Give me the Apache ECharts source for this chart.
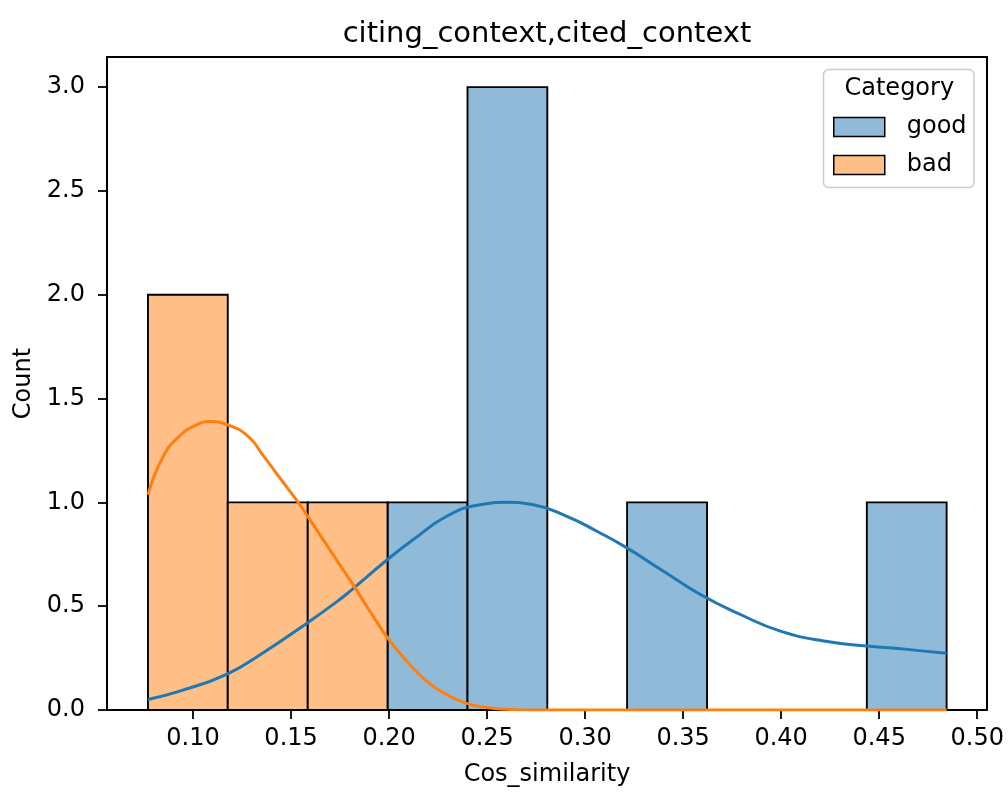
<!DOCTYPE html>
<html>
<head>
<meta charset="utf-8">
<script src="https://cdn.jsdelivr.net/npm/echarts@6/dist/echarts.min.js"></script>
<style>html,body{margin:0;padding:0;background:#fff;}#chart{width:1008px;height:792px;}</style>
</head>
<body>
<div id="chart"></div>
<script>
// ---- data ----
const binEdges = [0.0770, 0.1177, 0.1585, 0.1992, 0.2400, 0.2807, 0.3214, 0.3622, 0.4029, 0.4437, 0.4844];
const goodCounts = [0, 0, 0, 1, 3, 0, 1, 0, 0, 1];
const badCounts  = [2, 1, 1, 0, 0, 0, 0, 0, 0, 0];

const goodKdeX = [0.0770, 0.0932, 0.1171, 0.1358, 0.1579, 0.1748, 0.1809, 0.1992, 0.2124, 0.2294, 0.2464, 0.2601, 0.2736, 0.2907, 0.3060, 0.3213, 0.3400, 0.3588, 0.3792, 0.3996, 0.4218, 0.4439, 0.4643, 0.4844];
const goodKdeY = [0.051, 0.091, 0.172, 0.276, 0.417, 0.532, 0.579, 0.725, 0.821, 0.933, 0.989, 1.000, 0.989, 0.933, 0.861, 0.781, 0.668, 0.556, 0.460, 0.380, 0.332, 0.308, 0.292, 0.273];

const badKdeX = [0.0770, 0.0847, 0.0932, 0.1017, 0.1085, 0.1171, 0.1281, 0.1358, 0.1450, 0.1545, 0.1579, 0.1748, 0.1816, 0.1918, 0.1992, 0.2089, 0.2191, 0.2293, 0.2395, 0.2497, 0.2600, 0.2750, 0.3000, 0.3500, 0.4000, 0.4500, 0.4844];
const badKdeY = [1.037, 1.220, 1.320, 1.373, 1.389, 1.375, 1.318, 1.225, 1.109, 0.989, 0.941, 0.700, 0.604, 0.452, 0.348, 0.236, 0.139, 0.075, 0.032, 0.012, 0.004, 0, 0, 0, 0, 0, 0];

const xTicks = [0.10, 0.15, 0.20, 0.25, 0.30, 0.35, 0.40, 0.45, 0.50];
const yTicks = [0.0, 0.5, 1.0, 1.5, 2.0, 2.5, 3.0];

const titleText = 'citing_context,cited_context';
const xName = 'Cos_similarity';
const yName = 'Count';
const legendTitle = 'Category';
const categories = ['good', 'bad'];

// ---- build ----
const FONT = 'DejaVu Sans';
const colors = {good: {fill: '#8fbbd9', line: '#1f77b4'}, bad: {fill: '#ffbf86', line: '#ff7f0e'}};

function binData(counts) {
  return counts.map((c, i) => [binEdges[i], binEdges[i + 1], c]);
}
function zip(xs, ys) { return xs.map((x, i) => [x, ys[i]]); }

function barSeries(name, counts) {
  return {
    name: name,
    type: 'custom',
    z: 2,
    itemStyle: {color: colors[name].fill},
    encode: {x: [0, 1], y: 2},
    data: binData(counts),
    renderItem: function (params, api) {
      const p0 = api.coord([api.value(0), 0]);
      const p1 = api.coord([api.value(1), api.value(2)]);
      return {
        type: 'rect',
        shape: {x: p0[0], y: p1[1], width: p1[0] - p0[0], height: p0[1] - p1[1]},
        style: {fill: colors[name].fill, stroke: '#000', lineWidth: 1.9}
      };
    }
  };
}
function kdeSeries(name, xs, ys) {
  return {
    name: name + '_kde',
    type: 'line',
    z: 5,
    data: zip(xs, ys),
    showSymbol: false,
    symbol: 'none',
    smooth: 0.5,
    clip: true,
    lineStyle: {color: colors[name].line, width: 3},
    itemStyle: {color: colors[name].line},
    silent: true
  };
}

const chart = echarts.init(document.getElementById('chart'), null, {renderer: 'canvas'});
chart.setOption({
  animation: false,
  backgroundColor: '#fff',
  title: {
    text: titleText, left: 547, top: 20, textAlign: 'center', padding: 0,
    textStyle: {fontFamily: FONT, fontSize: 29, fontWeight: 'normal', color: '#000'}
  },
  grid: {left: 107, right: 21, top: 57, bottom: 81, show: true, borderColor: '#000', borderWidth: 2, backgroundColor: 'transparent'},
  xAxis: {
    type: 'value', min: 0.0561, max: 0.5050,
    name: xName, nameLocation: 'middle', nameGap: 53,
    nameTextStyle: {fontFamily: FONT, fontSize: 24, color: '#000'},
    axisLine: {show: false},
    axisTick: {show: true, length: 9, lineStyle: {color: '#000', width: 1.8}, customValues: xTicks},
    axisLabel: {fontFamily: FONT, fontSize: 24, color: '#000', margin: 17, customValues: xTicks,
      formatter: v => Number(v).toFixed(2)},
    splitLine: {show: false}
  },
  yAxis: {
    type: 'value', min: 0, max: 3.145,
    name: yName, nameLocation: 'middle', nameGap: 70,
    nameTextStyle: {fontFamily: FONT, fontSize: 24, color: '#000'},
    axisLine: {show: false},
    axisTick: {show: true, length: 9, lineStyle: {color: '#000', width: 1.8}, customValues: yTicks},
    axisLabel: {fontFamily: FONT, fontSize: 24, color: '#000', margin: 22, customValues: yTicks,
      formatter: v => Number(v).toFixed(1)},
    splitLine: {show: false}
  },
  legend: {
    orient: 'vertical', left: 833, top: 115, z: 10, padding: 0,
    itemWidth: 51, itemHeight: 19, itemGap: 14,
    selectedMode: false,
    data: categories.map(c => ({name: c, icon: 'rect'})),
    itemStyle: {borderColor: '#000', borderWidth: 1.5},
    textStyle: {fontFamily: FONT, fontSize: 24, color: '#000', padding: [0, 0, 0, 17]}
  },
  graphic: [
    {type: 'rect', z: 8, shape: {x: 823.5, y: 69.5, width: 150.5, height: 118, r: 5},
     style: {fill: 'rgba(255,255,255,0.8)', stroke: '#cccccc', lineWidth: 1.5}},
    {type: 'text', z: 9, x: 899.3, y: 89,
     style: {text: legendTitle, font: '24px "DejaVu Sans"', fill: '#000', textAlign: 'center', textVerticalAlign: 'middle'}}
  ],
  series: [
    barSeries('good', goodCounts),
    barSeries('bad', badCounts),
    kdeSeries('good', goodKdeX, goodKdeY),
    kdeSeries('bad', badKdeX, badKdeY)
  ]
});
</script>
</body>
</html>
